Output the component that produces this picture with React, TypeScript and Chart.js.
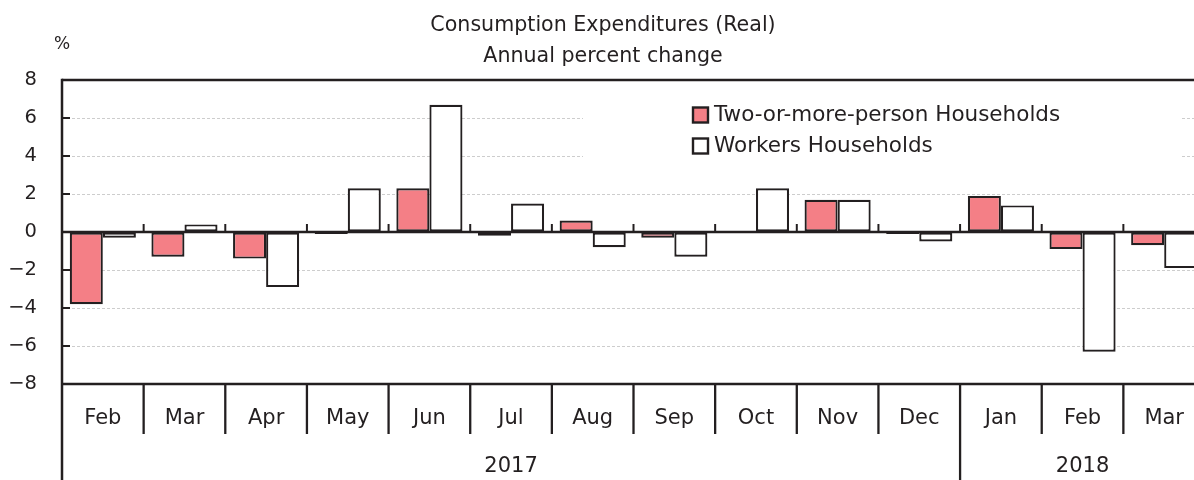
import React, { useEffect, useRef } from "react";
import { Chart, registerables } from "chart.js";

Chart.register(...registerables);

const TITLE_LINES = ["Consumption Expenditures (Real)", "Annual percent change"];
const UNIT_LABEL = "%";
const MONTHS = ["Feb", "Mar", "Apr", "May", "Jun", "Jul", "Aug", "Sep", "Oct", "Nov", "Dec", "Jan", "Feb", "Mar"];
const YEARS = ["2017", "2018"];
const YEAR_MONTH_COUNTS = [11, 3];
const SERIES_NAMES = ["Two-or-more-person Households", "Workers Households"];
const TWO_OR_MORE = [-3.8, -1.3, -1.4, -0.1, 2.3, -0.2, 0.6, -0.3, 0.0, 1.7, -0.1, 1.9, -0.9, -0.7];
const WORKERS = [-0.3, 0.4, -2.9, 2.3, 6.7, 1.5, -0.8, -1.3, 2.3, 1.7, -0.5, 1.4, -6.3, -1.9];
const Y_MIN = -8;
const Y_MAX = 8;
const Y_STEP = 2;

const FONT = "'DejaVu Sans', sans-serif";
const DARK = "#231F20";
const PINK = "#F47F86";
const GRID = "#cdcdcd";

const decorPlugin = {
  id: "decor",
  afterDraw(chart: any) {
    const { ctx, chartArea: a, scales } = chart;
    const x = scales.x;
    const y = scales.y;
    const H = chart.height;
    const line = (x1: number, y1: number, x2: number, y2: number) => {
      ctx.beginPath();
      ctx.moveTo(x1, y1);
      ctx.lineTo(x2, y2);
      ctx.stroke();
    };
    ctx.save();

    // legend
    ctx.fillStyle = "#ffffff";
    ctx.fillRect(583, a.top + 2, 597, 96);
    ctx.font = `21.5px ${FONT}`;
    ctx.textBaseline = "middle";
    ctx.textAlign = "left";
    chart.data.datasets.forEach((ds: any, i: number) => {
      const cy = 115 + i * 31;
      ctx.fillStyle = ds.backgroundColor;
      ctx.fillRect(693, cy - 7.5, 15, 15);
      ctx.strokeStyle = DARK;
      ctx.lineWidth = 2.4;
      ctx.strokeRect(693, cy - 7.5, 15, 15);
      ctx.fillStyle = DARK;
      ctx.fillText(ds.label, 714, cy);
    });

    // unit label
    ctx.font = `17px ${FONT}`;
    ctx.textAlign = "center";
    ctx.fillText(UNIT_LABEL, a.left, 45);

    ctx.strokeStyle = DARK;
    ctx.lineWidth = 2.5;
    const y0 = y.getPixelForValue(0);
    line(a.left, a.top, a.right, a.top);
    line(a.left, a.bottom, a.right, a.bottom);
    line(a.left, a.top - 1.25, a.left, H);
    line(a.left, y0, a.right, y0);

    // inward y ticks
    ctx.lineWidth = 2;
    y.ticks.forEach((t: any) => {
      const py = y.getPixelForValue(t.value);
      line(a.left, py, a.left + 8, py);
    });

    // category boundaries
    const yearEnds: number[] = [];
    let acc = 0;
    YEAR_MONTH_COUNTS.forEach((c) => {
      acc += c;
      yearEnds.push(acc);
    });
    for (let i = 1; i < MONTHS.length; i++) {
      const bx = (x.getPixelForValue(i - 1) + x.getPixelForValue(i)) / 2;
      ctx.lineWidth = 2;
      line(bx, y0 - 8, bx, y0);
      ctx.lineWidth = 2.3;
      if (yearEnds.includes(i)) line(bx, a.bottom, bx, H);
      else line(bx, a.bottom, bx, a.bottom + 50);
    }

    // year labels
    ctx.font = `21px ${FONT}`;
    ctx.fillStyle = DARK;
    ctx.textAlign = "center";
    ctx.textBaseline = "middle";
    let start = 0;
    const cw = x.getPixelForValue(1) - x.getPixelForValue(0);
    YEARS.forEach((yr, k) => {
      const end = start + YEAR_MONTH_COUNTS[k] - 1;
      const left = x.getPixelForValue(start) - cw / 2;
      const right = x.getPixelForValue(end) + cw / 2;
      ctx.fillText(yr, (left + right) / 2, 467);
      start += YEAR_MONTH_COUNTS[k];
    });

    ctx.restore();
  },
};

export default function App() {
  const ref = useRef<HTMLCanvasElement | null>(null);
  useEffect(() => {
    const canvas = ref.current;
    if (!canvas) return;
    const barCommon = {
      borderColor: DARK,
      borderWidth: 2.2,
      borderSkipped: false,
      categoryPercentage: 0.81,
      barPercentage: 1,
    };
    const chart = new Chart(canvas, {
      type: "bar",
      data: {
        labels: MONTHS,
        datasets: [
          { label: SERIES_NAMES[0], data: TWO_OR_MORE, backgroundColor: PINK, ...barCommon },
          { label: SERIES_NAMES[1], data: WORKERS, backgroundColor: "#ffffff", ...barCommon },
        ],
      },
      options: {
        responsive: false,
        animation: false,
        layout: { padding: 0 },
        plugins: {
          legend: { display: false },
          tooltip: { enabled: false },
          title: {
            display: true,
            text: TITLE_LINES,
            color: DARK,
            font: { family: FONT, size: 20.6, weight: "normal", lineHeight: 31 / 20.6 },
            padding: { top: 10, bottom: 8 },
          },
        },
        scales: {
          x: {
            grid: { display: false, drawTicks: false },
            border: { display: false },
            ticks: {
              color: DARK,
              font: { family: FONT, size: 21 },
              padding: 22,
              autoSkip: false,
              maxRotation: 0,
            },
            afterFit: (s: any) => {
              s.height = 96;
            },
          },
          y: {
            min: Y_MIN,
            max: Y_MAX,
            ticks: {
              stepSize: Y_STEP,
              color: DARK,
              font: { family: FONT, size: 19.5 },
              padding: 25,
              callback: (v: any) => (Number(v) < 0 ? "\u2212" + Math.abs(Number(v)) : String(v)),
            },
            grid: {
              drawTicks: false,
              lineWidth: 1,
              color: (c: any) => {
                const v = c.tick ? c.tick.value : 0;
                return v === 0 || v === Y_MIN || v === Y_MAX ? "rgba(0,0,0,0)" : GRID;
              },
            },
            border: { display: false, dash: [3, 2] },
            afterFit: (s: any) => {
              s.width = 62;
            },
          },
        },
      },
      plugins: [decorPlugin],
    } as any);
    return () => chart.destroy();
  }, []);

  return (
    <div style={{ position: "absolute", left: 0, top: 0, width: 1194, height: 480, overflow: "hidden", background: "#fff" }}>
      <canvas ref={ref} width={1206} height={480} style={{ display: "block" }} />
    </div>
  );
}
